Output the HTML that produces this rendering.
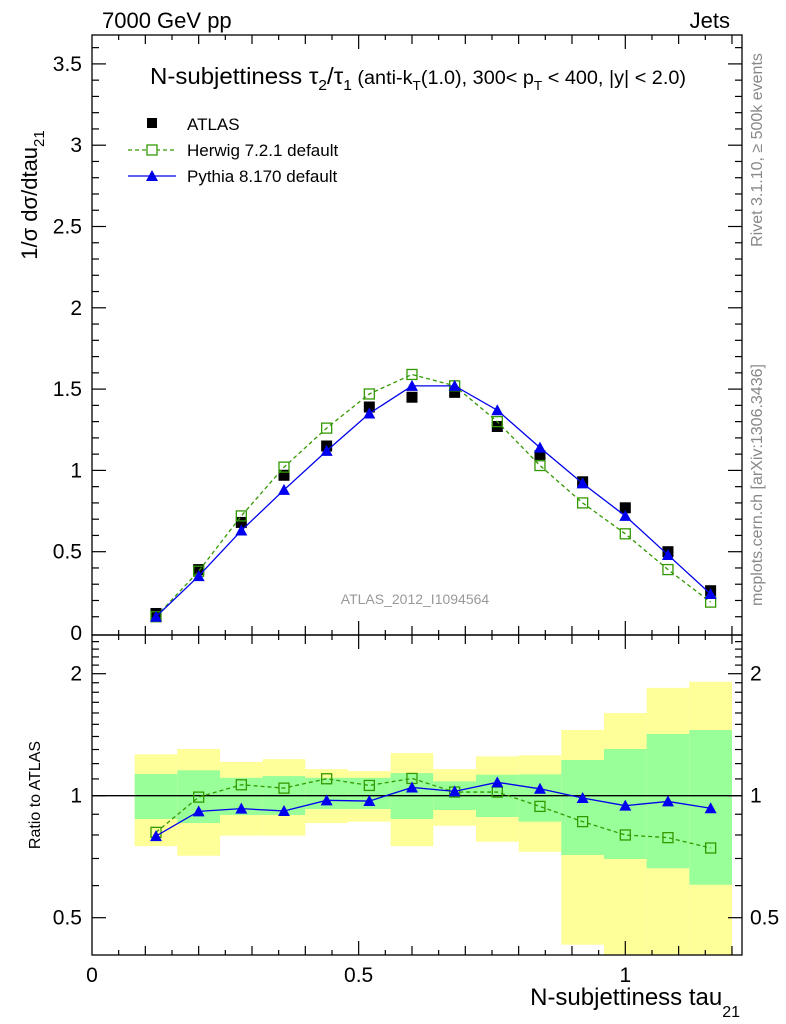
<!DOCTYPE html>
<html><head><meta charset="utf-8"><style>
body{margin:0;background:#fff}
svg{display:block;font-family:"Liberation Sans",sans-serif}
</style></head><body>
<svg id="c" width="786" height="1024" viewBox="0 0 786 1024" xmlns="http://www.w3.org/2000/svg">
<text x="102" y="28" font-size="22">7000 GeV pp</text>
<text x="730" y="28" font-size="22" text-anchor="end">Jets</text>
<text transform="translate(37,195) rotate(-90)" font-size="22" text-anchor="middle">1/σ dσ/dtau<tspan font-size="15" dy="7">21</tspan></text>
<text transform="translate(40,795) rotate(-90)" font-size="16" text-anchor="middle">Ratio to ATLAS</text>
<text x="740" y="1005" font-size="24" text-anchor="end">N-subjettiness tau<tspan font-size="16" dy="12">21</tspan></text>
<text transform="translate(762,150) rotate(-90)" font-size="16" fill="#888" text-anchor="middle">Rivet 3.1.10, ≥ 500k events</text>
<text transform="translate(762,485) rotate(-90)" font-size="16" fill="#888" text-anchor="middle">mcplots.cern.ch [arXiv:1306.3436]</text>
<text x="415" y="604" font-size="14" fill="#999" text-anchor="middle">ATLAS_2012_I1094564</text>
<text x="150" y="84" font-size="23" textLength="536" lengthAdjust="spacingAndGlyphs">N-subjettiness τ<tspan font-size="15" dy="6">2</tspan><tspan dy="-6">/τ</tspan><tspan font-size="15" dy="6">1</tspan><tspan font-size="19" dy="-6"> (anti-k</tspan><tspan font-size="13" dy="6">T</tspan><tspan font-size="19" dy="-6">(1.0), 300&lt; p</tspan><tspan font-size="13" dy="6">T</tspan><tspan font-size="19" dy="-6"> &lt; 400, |y| &lt; 2.0)</tspan></text>
<g>
<rect x="147" y="118" width="10" height="10" fill="#000"/>
<text x="187" y="130" font-size="17">ATLAS</text>
<line x1="128" y1="150" x2="176" y2="150" stroke="#339900" stroke-width="1.3" stroke-dasharray="4,3"/>
<rect x="147" y="145" width="10" height="10" fill="#fff" stroke="#339900" stroke-width="1.3"/>
<text x="187" y="156" font-size="17">Herwig 7.2.1 default</text>
<line x1="128" y1="176" x2="176" y2="176" stroke="#0000ee" stroke-width="1.3"/>
<path d="M152,170 L158,181 L146,181 Z" fill="#0000ee"/>
<text x="187" y="182" font-size="17">Pythia 8.170 default</text>
</g>
<g id="main"></g><g id="ratio"></g><g id="axes"></g>
</svg>
<script>
const binCenters=[0.12,0.2,0.28,0.36,0.44,0.52,0.6,0.68,0.76,0.84,0.92,1.0,1.08,1.16];
const atlas=[0.12,0.39,0.68,0.97,1.15,1.39,1.45,1.48,1.27,1.09,0.93,0.77,0.50,0.26];
const herwig=[0.10,0.38,0.72,1.02,1.26,1.47,1.59,1.52,1.30,1.03,0.80,0.61,0.39,0.19];
const pythia=[0.10,0.35,0.63,0.88,1.12,1.35,1.52,1.52,1.37,1.14,0.92,0.72,0.48,0.24];
const herwigRatio=[0.812,0.992,1.064,1.044,1.101,1.060,1.103,1.021,1.021,0.941,0.863,0.800,0.788,0.743];
const pythiaRatio=[0.795,0.915,0.929,0.917,0.974,0.970,1.048,1.025,1.079,1.040,0.987,0.945,0.968,0.931];
const yellowHi=[1.265,1.304,1.211,1.231,1.163,1.150,1.274,1.163,1.250,1.258,1.452,1.599,1.845,1.91];
const yellowLo=[0.751,0.711,0.797,0.797,0.856,0.863,0.751,0.843,0.770,0.727,0.429,0.38,0.38,0.38];
const greenHi=[1.131,1.155,1.107,1.118,1.107,1.107,1.137,1.085,1.127,1.129,1.225,1.304,1.42,1.452];
const greenLo=[0.876,0.856,0.896,0.896,0.927,0.927,0.876,0.922,0.886,0.863,0.714,0.698,0.662,0.603];
const binWidth=0.08;
const xTicks=[0,0.5,1];
const yTicks=[0,0.5,1,1.5,2,2.5,3,3.5];
const rTicks=[0.5,1,2];

const NS='http://www.w3.org/2000/svg';
const L=92,R=742,T=35,B=635,RB=955;
const X=v=>L+v*533.3;
const Y=v=>633-v*162.6;
const RY=v=>795.7-Math.log2(v)*122;
function mk(tag,attrs,parent){const e=document.createElementNS(NS,tag);for(const k in attrs)e.setAttribute(k,attrs[k]);parent.appendChild(e);return e;}
const main=document.getElementById('main'),ratio=document.getElementById('ratio'),axes=document.getElementById('axes');

binCenters.forEach((c,i)=>{
 const x0=X(c-binWidth/2),x1=X(c+binWidth/2);
 const yl=mk('rect',{x:x0,y:Math.max(RY(yellowHi[i]),B),width:x1-x0,height:Math.min(RY(yellowLo[i]),RB)-Math.max(RY(yellowHi[i]),B),fill:'#ffff99'},ratio);
 
 
 const g=mk('rect',{x:x0,y:RY(greenHi[i]),width:x1-x0,height:RY(greenLo[i])-RY(greenHi[i]),fill:'#99ff99'},ratio);
 
 
});
mk('line',{x1:L,x2:R,y1:RY(1),y2:RY(1),stroke:'#000','stroke-width':1.3},ratio);

function series(par,ys,yf,color,dash,marker,name){
 const pts=binCenters.map((c,i)=>[X(c),yf(ys[i])]);
 const pl=mk('polyline',{points:pts.map(p=>p.join(',')).join(' '),fill:'none',stroke:color,'stroke-width':1.3},par);
 if(dash)pl.setAttribute('stroke-dasharray','4,3');
 
 
 pts.forEach(p=>{
  let m;
  if(marker==='sq')m=mk('rect',{x:p[0]-5,y:p[1]-5,width:10,height:10,fill:'none',stroke:color,'stroke-width':1.3},par);
  else m=mk('path',{d:`M${p[0]},${p[1]-6} L${p[0]+6},${p[1]+5} L${p[0]-6},${p[1]+5} Z`,fill:color},par);
  
  
 });
}
binCenters.forEach((c,i)=>{const m=mk('rect',{x:X(c)-5.5,y:Y(atlas[i])-5.5,width:11,height:11,fill:'#000'},main);
  
  });
series(main,herwig,Y,'#339900',true,'sq','herwig');
series(main,pythia,Y,'#0000ee',false,'tri','pythia');
series(ratio,herwigRatio,RY,'#339900',true,'sq','herwig-ratio');
series(ratio,pythiaRatio,RY,'#0000ee',false,'tri','pythia-ratio');

mk('rect',{x:L,y:T,width:R-L,height:B-T,fill:'none',stroke:'#000','stroke-width':1.3},axes);
mk('rect',{x:L,y:B,width:R-L,height:RB-B,fill:'none',stroke:'#000','stroke-width':1.3},axes);
function tick(x1,y1,x2,y2){mk('line',{x1,y1,x2,y2,stroke:'#000','stroke-width':1.2},axes);}
for(let k=1;k<=24;k++){const v=k*0.05;const x=X(v);if(x>R)break;
 const len=(k%10===0)?14:(k%2===0?9:5);
 [[T,1],[B,-1],[B,1],[RB,-1]].forEach(([y,d])=>tick(x,y,x,y+d*len));}
xTicks.forEach(v=>{const t=mk('text',{x:X(v),y:982,'font-size':21,'text-anchor':'middle'},axes);t.textContent=String(v);
 
 });
for(let k=1;k<=37;k++){const v=k*0.1;const y=Y(v);if(y<T)break;const len=k%5===0?14:7;tick(L,y,L+len,y);tick(R,y,R-len,y);}
yTicks.forEach(v=>{const t=mk('text',{x:82,y:Y(v)+7,'font-size':21,'text-anchor':'end'},axes);t.textContent=String(v);
 
 });
[0.5,0.6,0.7,0.8,0.9,1,1.1,1.2,1.3,1.4,1.5,1.6,1.7,1.8,1.9,2,2.1,2.2,2.3,2.4].forEach(v=>{const y=RY(v);if(y<B||y>RB)return;
 const len=rTicks.includes(v)?14:7;tick(L,y,L+len,y);tick(R,y,R-len,y);});
rTicks.forEach(v=>{[[82,'end'],[750,'start']].forEach(([x,a])=>{const t=mk('text',{x,y:RY(v)+7,'font-size':21,'text-anchor':a},axes);t.textContent=String(v);
 
 });});
</script>
</body></html>
